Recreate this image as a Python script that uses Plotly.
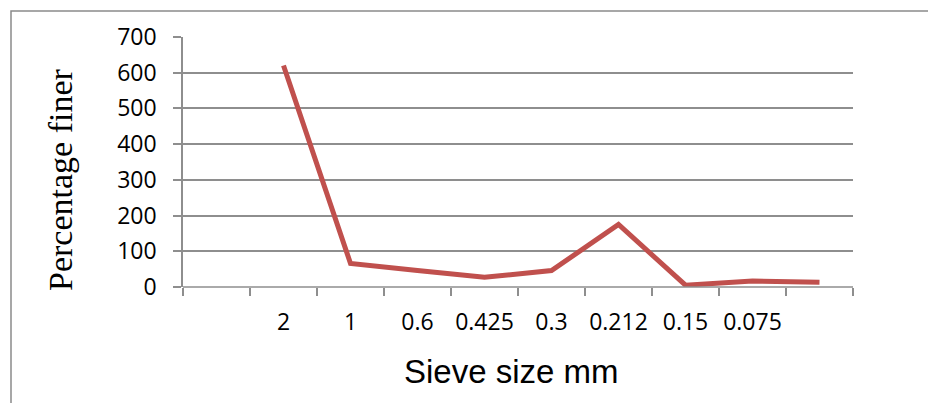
import plotly.graph_objects as go

# Category slots on the x axis (first and last slots carry no label)
categories = ["", "2", "1", "0.6", "0.425", "0.3", "0.212", "0.15", "0.075", ""]
# Percentage finer per slot (None = no point)
values = [None, 620, 66, 46, 27, 46, 175, 5, 17, 13]
y_ticks = [0, 100, 200, 300, 400, 500, 600, 700]

idx = list(range(len(categories)))

# page body has an 8px margin, so figure coordinates = window coordinates - 8
L, T, W, H = 175, 29, 670, 250   # plot area in figure px
FIG_W, FIG_H = 936, 403


def px_x(x):
    return (x - 8 - L) / W


def px_y(y):
    return (T + H - (y - 8)) / H


fig = go.Figure()
fig.add_trace(go.Scatter(
    x=idx, y=values, mode="lines",
    line=dict(color="#C0504D", width=5),
    connectgaps=False, showlegend=False, hoverinfo="skip"))

grid_col = "#8E8E8E"
tick_font = dict(family="Open Sans, Calibri, sans-serif", size=23, color="#000000")

fig.update_layout(
    width=FIG_W, height=FIG_H,
    margin=dict(l=L, r=FIG_W - L - W, t=T, b=FIG_H - T - H),
    paper_bgcolor="white", plot_bgcolor="white",
    xaxis=dict(
        range=[-0.5, len(categories) - 0.5],
        tickmode="array", tickvals=idx, ticktext=categories,
        ticks="", showgrid=False, zeroline=False,
        showline=False,
        tickfont=tick_font, ticklabelstandoff=19,
        minor=dict(ticks="outside", ticklen=8, tickwidth=1.5, tickcolor=grid_col,
                   tick0=-0.5, dtick=1, showgrid=False),
    ),
    yaxis=dict(
        range=[0, 700], tickmode="array", tickvals=y_ticks,
        ticks="outside", ticklen=8, tickwidth=1.5, tickcolor=grid_col,
        showgrid=True, gridcolor=grid_col, gridwidth=1.5,
        zeroline=False, showline=True, linecolor=grid_col, linewidth=1.5,
        tickfont=tick_font, ticklabelstandoff=12,
    ),
    shapes=[
        dict(type="line", xref="paper", yref="paper", x0=0, x1=1, y0=0, y1=0,
             line=dict(color=grid_col, width=1.5)),
        dict(type="rect", xref="x domain", yref="y domain",
             x0=px_x(11), x1=2.0, y0=px_y(11), y1=-2.0,
             line=dict(color="#8A8A8A", width=1.5), fillcolor="rgba(0,0,0,0)",
             layer="below"),
    ],
    annotations=[
        dict(text="Percentage finer", textangle=-90, xref="paper", yref="paper",
             x=px_x(60), y=px_y(180),
             xanchor="center", yanchor="middle", showarrow=False,
             font=dict(family="Liberation Serif, Times New Roman, serif", size=34, color="#000000")),
        dict(text="Sieve size mm", xref="paper", yref="paper",
             x=px_x(511), y=px_y(371),
             xanchor="center", yanchor="middle", showarrow=False,
             font=dict(family="Liberation Sans, Arial, sans-serif", size=33, color="#000000")),
    ],
)

fig.write_html("out.html")
